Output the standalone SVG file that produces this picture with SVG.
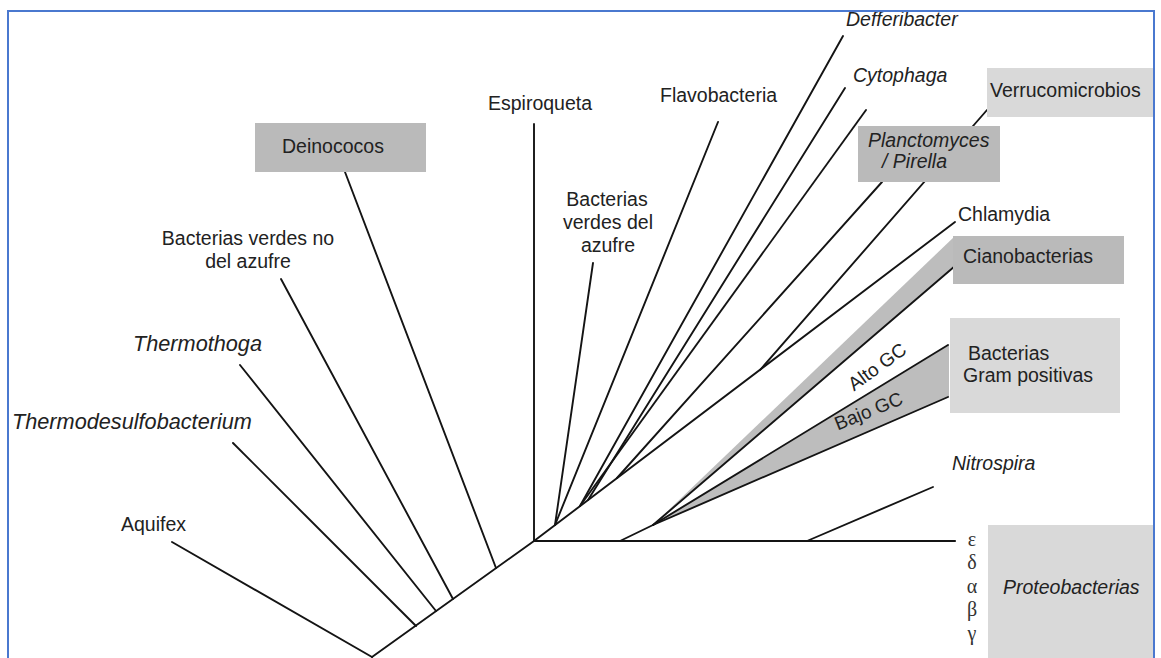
<svg xmlns="http://www.w3.org/2000/svg" width="1161" height="658" viewBox="0 0 1161 658">
  <style>
    .br { fill: none; stroke: #141414; stroke-width: 1.9; stroke-linecap: round; }
    .lbl { font-family: "Liberation Sans", Arial, sans-serif; font-size: 19.5px; fill: #222; }
    .it { font-style: italic; }
    .big { font-size: 21.7px; }
    .gc { font-size: 19px; }
    .gr { font-family: "Liberation Serif", "Times New Roman", serif; font-size: 20px; fill: #333; }
    .dark { fill: #bababa; }
    .light { fill: #d9d9d9; }
    .band { fill: #bdbdbd; }
  </style>

  <rect x="0" y="0" width="1161" height="658" fill="#ffffff"/>

  <!-- shaded clades -->
  <g id="clades">
    <polygon class="band" points="955,236 955,266 653,525"/>
    <polygon class="band" points="653,525 949,345 949,397"/>
  </g>

  <!-- branches of the tree -->
  <g id="connectors">
    <path class="br" d="M172,542 L372,657"/>
    <path class="br" d="M372,657 L534,541"/>
    <path class="br" d="M233,443 L416,626"/>
    <path class="br" d="M240,365 L436,611"/>
    <path class="br" d="M281,279 L453,599"/>
    <path class="br" d="M345,172 L496,568"/>
    <path class="br" d="M534,124 V541"/>
    <path class="br" d="M534,541 L955,222"/>
    <path class="br" d="M593,263 L555,525"/>
    <path class="br" d="M718,122 L555,525"/>
    <path class="br" d="M843,36 L580,506"/>
    <path class="br" d="M845,88 L588,500"/>
    <path class="br" d="M866,110 L580,506"/>
    <path class="br" d="M882,182 L617,478"/>
    <path class="br" d="M987,110 L760,370"/>
    <path class="br" d="M534,541 H955" style="stroke-width:2.2"/>
    <path class="br" d="M620,541 L653,525"/>
    <path class="br" d="M653,525 L955,266"/>
    <path class="br" d="M653,525 L948,345"/>
    <path class="br" d="M653,525 L948,397"/>
    <path class="br" d="M807,541 L933,487"/>
  </g>

  <g id="aquifex"><text class="lbl" x="121" y="531">Aquifex</text></g>
  <g id="thermodesulfobacterium"><text class="lbl it big" x="12" y="429">Thermodesulfobacterium</text></g>
  <g id="thermothoga"><text class="lbl it big" x="133" y="351">Thermothoga</text></g>
  <g id="bacterias-verdes-no-azufre">
    <text class="lbl" text-anchor="middle" x="248" y="245">Bacterias verdes no</text>
    <text class="lbl" text-anchor="middle" x="248" y="268">del azufre</text>
  </g>
  <g id="deinococos">
    <rect class="dark" x="255" y="123" width="171" height="49"/>
    <text class="lbl" x="282" y="153">Deinococos</text>
  </g>
  <g id="espiroqueta"><text class="lbl" x="488" y="110">Espiroqueta</text></g>
  <g id="bacterias-verdes-azufre">
    <text class="lbl" text-anchor="middle" x="607" y="206">Bacterias</text>
    <text class="lbl" text-anchor="middle" x="608" y="229">verdes del</text>
    <text class="lbl" text-anchor="middle" x="608" y="252">azufre</text>
  </g>
  <g id="flavobacteria"><text class="lbl" x="660" y="102">Flavobacteria</text></g>
  <g id="defferibacter"><text class="lbl it" x="846" y="26">Defferibacter</text></g>
  <g id="cytophaga"><text class="lbl it" x="853" y="82">Cytophaga</text></g>
  <g id="verrucomicrobios">
    <rect class="light" x="987" y="68" width="167" height="49"/>
    <text class="lbl" x="990" y="97">Verrucomicrobios</text>
  </g>
  <g id="planctomyces">
    <rect class="dark" x="858" y="126" width="142" height="56"/>
    <text class="lbl it" x="868" y="147">Planctomyces</text>
    <text class="lbl it" x="882" y="168">/ Pirella</text>
  </g>
  <g id="chlamydia"><text class="lbl" x="958" y="221">Chlamydia</text></g>
  <g id="cianobacterias">
    <rect class="dark" x="953" y="236" width="171" height="48"/>
    <text class="lbl" x="963" y="263">Cianobacterias</text>
  </g>
  <g id="gram-positivas">
    <rect class="light" x="950" y="318" width="170" height="95"/>
    <text class="lbl" x="968" y="360">Bacterias</text>
    <text class="lbl" x="963" y="382">Gram positivas</text>
    <text class="lbl gc" text-anchor="middle" transform="translate(881,372) rotate(-36)">Alto GC</text>
    <text class="lbl gc" text-anchor="middle" transform="translate(871,417) rotate(-22)">Bajo GC</text>
  </g>
  <g id="nitrospira"><text class="lbl it" x="952" y="470">Nitrospira</text></g>
  <g id="proteobacterias">
    <rect class="light" x="988" y="525" width="166" height="133"/>
    <text class="lbl it" x="1003" y="594">Proteobacterias</text>
    <text class="gr" text-anchor="middle" x="972" y="545.5">ε</text>
    <text class="gr" text-anchor="middle" x="972" y="569">δ</text>
    <text class="gr" text-anchor="middle" x="972" y="592.5">α</text>
    <text class="gr" text-anchor="middle" x="972" y="616">β</text>
    <text class="gr" text-anchor="middle" x="972" y="639.5">γ</text>
  </g>

  <!-- frame -->
  <path d="M8,660 V11 H1154 V660" fill="none" stroke="#4a78cf" stroke-width="2"/>
</svg>
